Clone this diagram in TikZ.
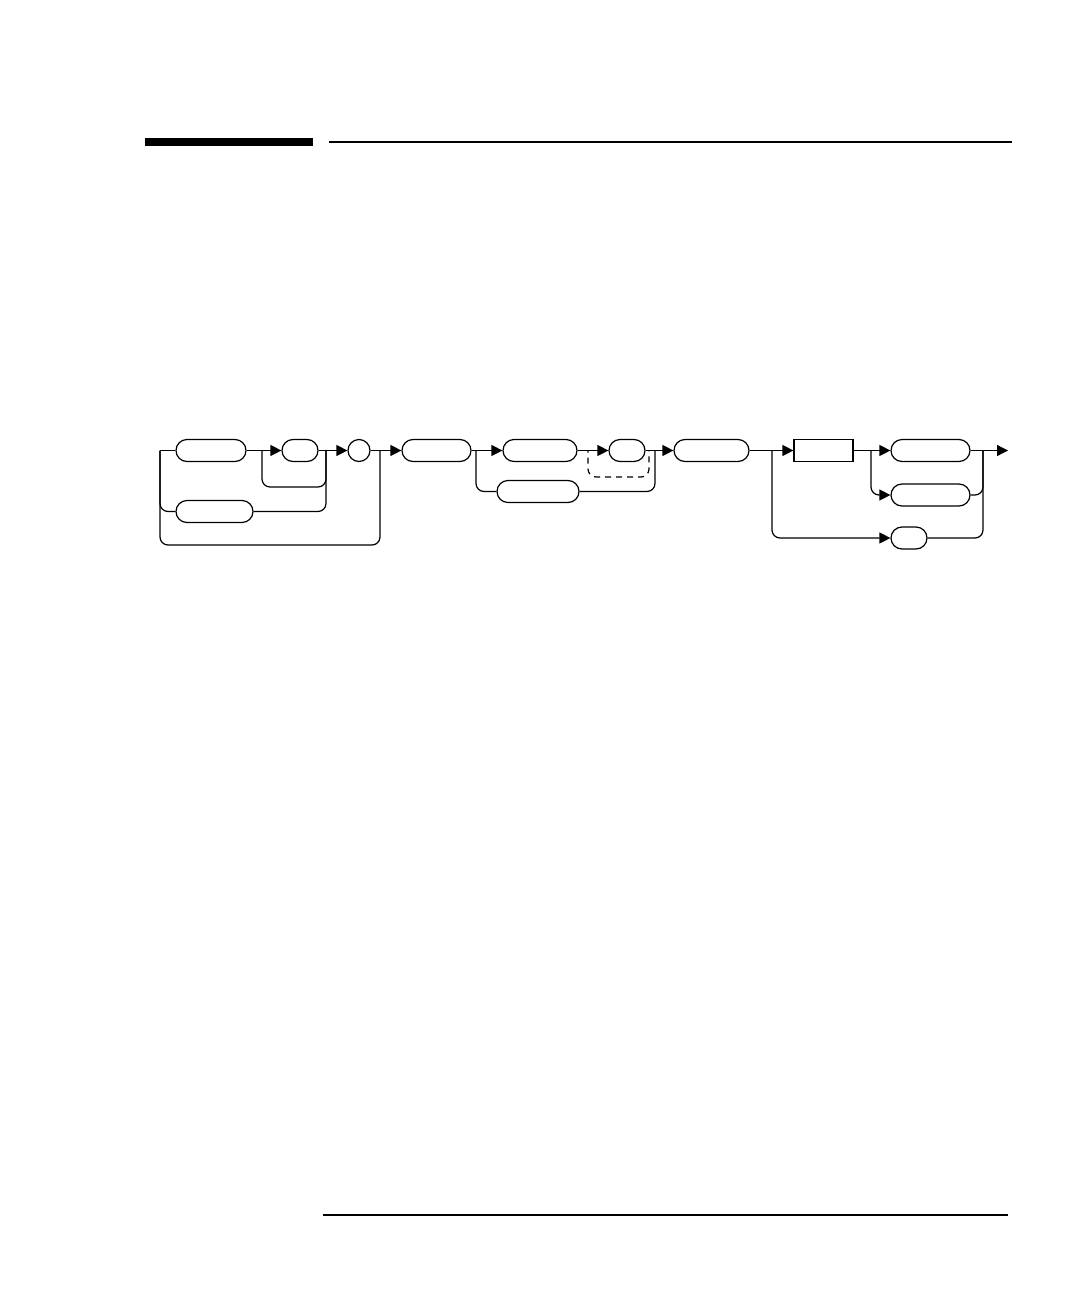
\documentclass[tikz,border=0pt]{standalone}
\usetikzlibrary{arrows.meta}
\begin{document}
\begin{tikzpicture}[x=0.5pt, y=-0.5pt,
  term/.style={draw=black, line width=0.6pt, rounded corners=5.5pt, minimum height=11pt, inner sep=0pt},
  flow/.style={black, line width=0.6pt, rounded corners=4pt},
  tip/.style={-{Triangle[length=5.5pt, width=5.5pt]}}]

  \useasboundingbox (0,0) rectangle (1080,1296);

  % page rules
  \fill[black] (145,138) rectangle (313,146);
  \draw[line width=0.75pt] (329,142) -- (1012,142);
  \draw[line width=0.75pt] (323,1215) -- (1008,1215);

  \def\ym{450.5}

  % main row
  \node[term, minimum width=35pt] (ta) at (211,\ym) {};
  \node[term, minimum width=18pt] (tb) at (300,\ym) {};
  \node[draw=black, circle, line width=0.6pt, minimum size=11pt, inner sep=0pt] (tc) at (359,\ym) {};
  \node[term, minimum width=34.5pt] (td) at (436.5,\ym) {};
  \node[term, minimum width=37pt] (te) at (540,\ym) {};
  \node[term, minimum width=18pt] (tf) at (627,\ym) {};
  \node[term, minimum width=37.5pt] (tg) at (711.5,\ym) {};
  \node[draw=black, line width=0.6pt, minimum width=29.5pt, minimum height=11pt, inner sep=0pt] (th) at (823.5,\ym) {};
  \node[term, minimum width=39.5pt] (ti) at (930.5,\ym) {};

  % lower rows
  \node[term, minimum width=38.5pt] (tl) at (214.5,511.5) {};
  \node[term, minimum width=41pt] (tm) at (538,491.5) {};
  \node[term, minimum width=39.5pt] (tj) at (930.5,495) {};
  \node[term, minimum width=18pt] (tk) at (909,538) {};

  % junctions
  \coordinate (in) at (160,\ym);
  \coordinate (jab) at (262,\ym);
  \coordinate (jbc) at (326,\ym);
  \coordinate (jcd) at (380,\ym);
  \coordinate (jde) at (476,\ym);
  \coordinate (jef) at (588,\ym);
  \coordinate (jfd) at (649,\ym);
  \coordinate (jfg) at (655,\ym);
  \coordinate (jgh) at (772,\ym);
  \coordinate (jhi) at (871,\ym);
  \coordinate (jout) at (983,\ym);
  \coordinate (out) at (1008,\ym);
  \coordinate (skipb) at (326,487);
  \coordinate (loopl) at (160,545);
  \coordinate (loopr) at (380,545);
  \coordinate (dashl) at (588,477);
  \coordinate (dashr) at (649,477);

  % main line
  \draw[flow] (in) -- (ta.west);
  \draw[flow, tip] (ta.east) -- (tb.west);
  \draw[flow, tip] (tb.east) -- (tc.west);
  \draw[flow, tip] (tc.east) -- (td.west);
  \draw[flow, tip] (td.east) -- (te.west);
  \draw[flow, tip] (te.east) -- (tf.west);
  \draw[flow, tip] (tf.east) -- (tg.west);
  \draw[flow, tip] (tg.east) -- (th.west);
  \draw[flow, tip] (th.east) -- (ti.west);
  \draw[flow, tip] (ti.east) -- (out);

  % branches
  \draw[flow] (in) |- (tl.west);
  \draw[flow] (in) -- (loopl) -- (loopr) -- (jcd);
  \draw[flow] (jab) |- (skipb) -- (jbc);
  \draw[flow] (tl.east) -| (jbc);
  \draw[flow] (jde) |- (tm.west);
  \draw[flow] (tm.east) -| (jfg);
  \draw[flow, dash pattern=on 3pt off 2.5pt, dash phase=2pt] (jef) -- (dashl) -- (dashr) -- (jfd);
  \draw[flow, tip] (jhi) |- (tj.west);
  \draw[flow, tip] (jgh) |- (tk.west);
  \draw[flow] (tj.east) -| (jout);
  \draw[flow] (tk.east) -| (jout);

\end{tikzpicture}
\end{document}
